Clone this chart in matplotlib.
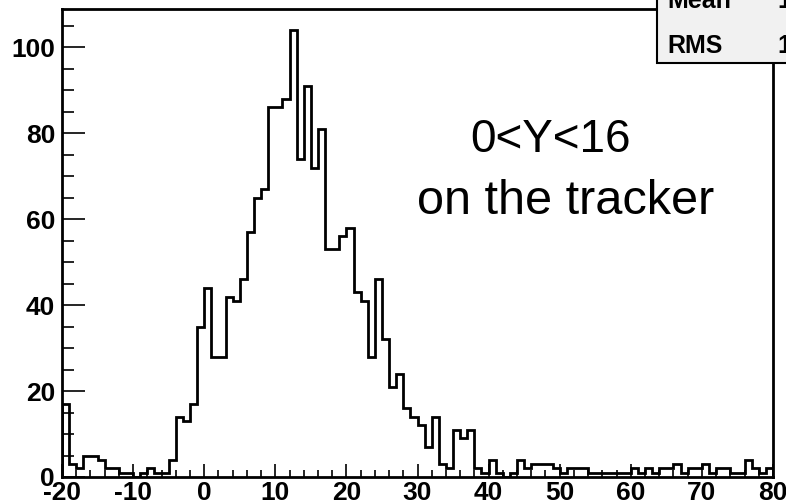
import numpy as np
import matplotlib
matplotlib.use('Agg')
import matplotlib.pyplot as plt
from matplotlib.patches import Rectangle
from matplotlib.ticker import MultipleLocator

plt.rcParams['font.family'] = ['Liberation Sans', 'DejaVu Sans']
plt.rcParams['axes.unicode_minus'] = False

# histogram: 100 bins of width 1 from -20 to 80
bin_edges = np.arange(-20, 81, 1)
counts = [
    17, 3, 2, 5, 5, 4, 2, 2, 1, 1,
    0, 1, 2, 1, 1, 4, 14, 13, 17, 35,
    44, 28, 28, 42, 41, 46, 57, 65, 67, 86,
    86, 88, 104, 74, 91, 72, 81, 53, 53, 56,
    58, 43, 41, 28, 46, 32, 21, 24, 16, 14,
    12, 7, 14, 3, 2, 11, 9, 11, 2, 1,
    4, 1, 0, 1, 4, 2, 3, 3, 3, 2,
    1, 2, 2, 2, 1, 1, 1, 1, 1, 1,
    2, 1, 2, 1, 2, 2, 3, 1, 2, 2,
    3, 1, 2, 2, 1, 1, 4, 2, 1, 2,
]
label_lines = ['0<Y<16', 'on the tracker']
stat_names = ['Mean', 'RMS']
stat_values = ['13.96', '15.07']

W, H = 786, 501
fig = plt.figure(figsize=(W / 100, H / 100), dpi=100)
ax = fig.add_axes([62 / W, 1 - 477 / H, (773 - 62) / W, (477 - 9) / H])

ax.stairs(counts, bin_edges, baseline=0, color='black', linewidth=2)

ax.set_xlim(-20, 80)
ax.set_ylim(0, 108.9)
ax.xaxis.set_major_locator(MultipleLocator(10))
ax.xaxis.set_minor_locator(MultipleLocator(2))
ax.yaxis.set_major_locator(MultipleLocator(20))
ax.yaxis.set_minor_locator(MultipleLocator(5))

ax.tick_params(axis='both', which='both', direction='in', width=1.2, top=False, right=False)
ax.tick_params(axis='y', which='major', length=16.5, pad=5)
ax.tick_params(axis='y', which='minor', length=8.5)
ax.tick_params(axis='x', which='major', length=9.5, pad=3)
ax.tick_params(axis='x', which='minor', length=5)
for lab in ax.get_xticklabels() + ax.get_yticklabels():
    lab.set_fontweight('bold')
    lab.set_fontsize(19)

for sp in ax.spines.values():
    sp.set_linewidth(2)

fig.text(551 / W, 1 - 152 / H, label_lines[0], ha='center', va='baseline', fontsize=33)
fig.text(566 / W, 1 - 214 / H, label_lines[1], ha='center', va='baseline', fontsize=35)

# stats box, cut by the top right corner of the picture
box = Rectangle((657 / W, 1 - 63 / H), 0.3, 0.3, transform=fig.transFigure,
                facecolor='#f1f1f1', edgecolor='black', linewidth=1.5, zorder=5)
fig.add_artist(box)
for name, val, yb in zip(stat_names, stat_values, [8, 53]):
    fig.text(667 / W, 1 - yb / H, name, ha='left', va='baseline', fontsize=18,
             fontweight='bold', zorder=6)
    fig.text(777 / W, 1 - yb / H, val, ha='left', va='baseline', fontsize=18,
             fontweight='bold', zorder=6)

fig.savefig('out.png', dpi=100)
